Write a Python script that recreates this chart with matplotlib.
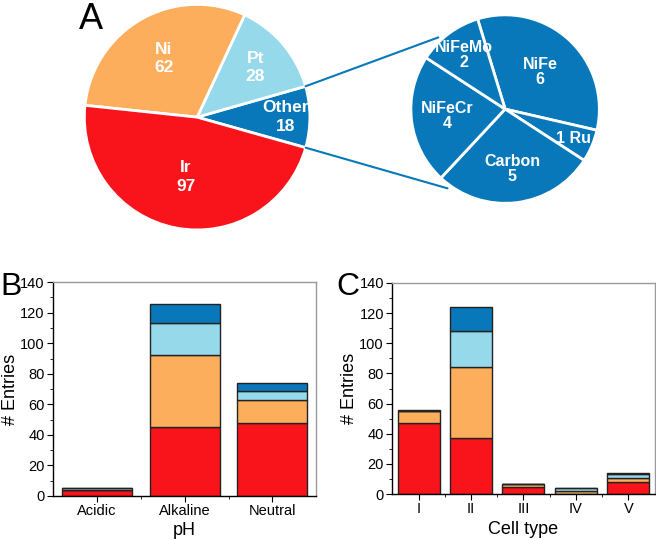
import matplotlib
matplotlib.use("Agg")
import matplotlib.pyplot as plt
from matplotlib.patches import ConnectionPatch
from matplotlib.ticker import MultipleLocator
import numpy as np

plt.rcParams['font.family'] = ['Liberation Sans', 'DejaVu Sans']

# main pie
metals = ['Other', 'Pt', 'Ni', 'Ir']
metal_counts = [18, 28, 62, 97]
# breakdown of "Other"
other_names = ['NiFe', 'Ru', 'Carbon', 'NiFeCr', 'NiFeMo']
other_counts = [6, 1, 5, 4, 2]

# stacked bars (Ir, Ni, Pt, Other)
ph_cats = ['Acidic', 'Alkaline', 'Neutral']
ph_ir = [4, 45, 48]
ph_ni = [0, 47, 15]
ph_pt = [1, 21, 6]
ph_other = [0, 13, 5]

cell_cats = ['I', 'II', 'III', 'IV', 'V']
cell_ir = [47, 37, 5, 0, 8]
cell_ni = [8, 47, 2, 2, 3]
cell_pt = [0, 24, 0, 2, 2]
cell_other = [1, 16, 0, 0, 1]

c_ir = '#F8141A'
c_ni = '#FDAE5C'
c_pt = '#95D9EA'
c_other = '#0878BA'
colors = {'Ir': c_ir, 'Ni': c_ni, 'Pt': c_pt, 'Other': c_other}

fig = plt.figure(figsize=(6.56, 5.4), dpi=100)

# ---- A: big pie
ax1 = fig.add_axes([0.125, 0.570, 0.351, 0.426])
w1, _ = ax1.pie(metal_counts, colors=[colors[m] for m in metals], startangle=-15.7,
                counterclock=True, wedgeprops=dict(edgecolor='white', linewidth=2))
ax1.set_xlim(-1.02, 1.02)
ax1.set_ylim(-1.02, 1.02)
ax1.set_aspect('equal')
lab_r = [0.78, 0.68, 0.6, 0.54]
for w, name, n, r in zip(w1, metals, metal_counts, lab_r):
    a = np.deg2rad((w.theta1 + w.theta2) / 2)
    ax1.text(r * np.cos(a), r * np.sin(a), f'{name}\n{n}', ha='center', va='center',
             color='white', fontweight='bold', fontsize=12.5, linespacing=1.3)

# ---- breakdown pie
ax2 = fig.add_axes([0.6235, 0.620, 0.293, 0.356])
w2, _ = ax2.pie(other_counts, colors=[c_other] * len(other_counts), startangle=107,
                counterclock=False, wedgeprops=dict(edgecolor='white', linewidth=2))
ax2.set_xlim(-1.02, 1.02)
ax2.set_ylim(-1.02, 1.02)
ax2.set_aspect('equal')
lab_r2 = [0.54, 0.79, 0.64, 0.62, 0.72]
for w, name, n, r in zip(w2, other_names, other_counts, lab_r2):
    a = np.deg2rad((w.theta1 + w.theta2) / 2)
    txt = f'{n} {name}' if name == 'Ru' else f'{name}\n{n}'
    ax2.text(r * np.cos(a), r * np.sin(a), txt, ha='center', va='center',
             color='white', fontweight='bold', fontsize=11.5, linespacing=1.0)

# connector lines
wo = w1[0]
for t1, t2 in [(wo.theta2, 133), (wo.theta1, -126)]:
    p1 = (np.cos(np.deg2rad(t1)), np.sin(np.deg2rad(t1)))
    p2 = (1.04 * np.cos(np.deg2rad(t2)), 1.04 * np.sin(np.deg2rad(t2)))
    con = ConnectionPatch(xyA=p1, coordsA=ax1.transData, xyB=p2, coordsB=ax2.transData,
                          color=c_other, linewidth=1.5)
    fig.add_artist(con)

fig.text(0.12, 0.963, 'A', fontsize=26, va='center', ha='left')


def stacked(ax, cats, ir, ni, pt, other, xlabel):
    x = np.arange(len(cats))
    bottom = np.zeros(len(cats))
    for vals, c in [(ir, c_ir), (ni, c_ni), (pt, c_pt), (other, c_other)]:
        vals = np.array(vals)
        ax.bar(x, vals, 0.8, bottom=bottom, color=c, edgecolor='#222222', linewidth=1)
        bottom += vals
    ax.set_xticks(x)
    ax.set_xticklabels(cats)
    ax.set_xlim(-0.5, len(cats) - 0.5)
    ax.set_xticks(x[:-1] + 0.5, minor=True)
    ax.set_ylim(0, 140)
    ax.yaxis.set_major_locator(MultipleLocator(20))
    ax.yaxis.set_minor_locator(MultipleLocator(10))
    ax.tick_params(axis='both', which='both', direction='out', labelsize=10.5, pad=2)
    ax.tick_params(which='major', length=4)
    ax.tick_params(which='minor', length=2.5)
    ax.set_ylabel('# Entries', fontsize=13, labelpad=1)
    ax.set_xlabel(xlabel, fontsize=13, labelpad=3)
    for s in ['top', 'right']:
        ax.spines[s].set_color('#999999')
    for s in ax.spines.values():
        s.set_linewidth(1)


axb = fig.add_axes([0.081, 0.0815, 0.401, 0.396])
stacked(axb, ph_cats, ph_ir, ph_ni, ph_pt, ph_other, 'pH')
axc = fig.add_axes([0.598, 0.085, 0.400, 0.391])
stacked(axc, cell_cats, cell_ir, cell_ni, cell_pt, cell_other, 'Cell type')

fig.text(0.0, 0.468, 'B', fontsize=23, va='center', ha='left')
fig.text(0.513, 0.468, 'C', fontsize=23, va='center', ha='left')

fig.savefig('out.png', dpi=100)
